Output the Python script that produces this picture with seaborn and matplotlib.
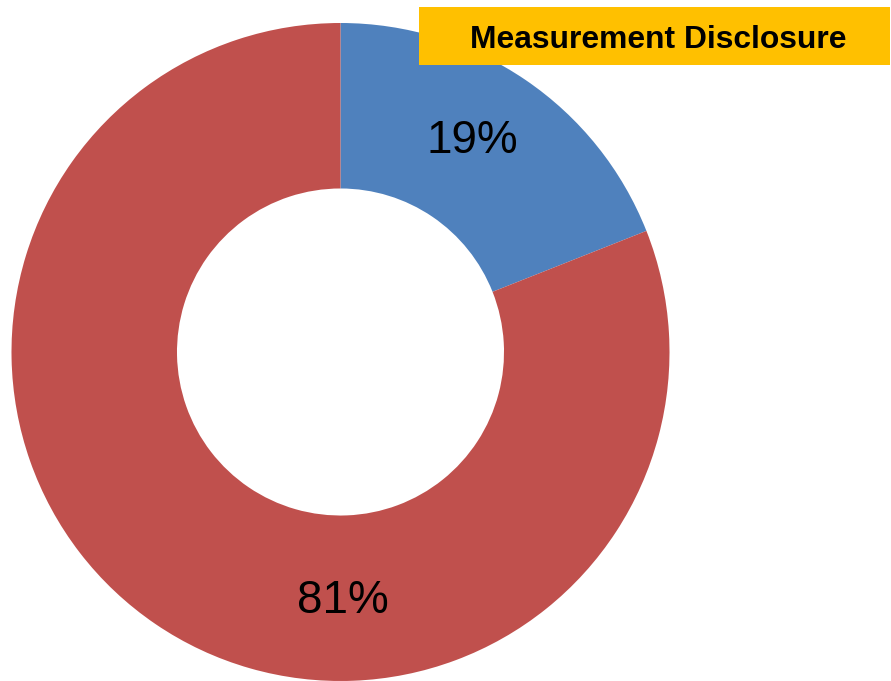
import matplotlib
matplotlib.use("Agg")
import matplotlib.pyplot as plt
from matplotlib.patches import Rectangle
import numpy as np
import seaborn as sns

categories = ["Disclosed", "Not disclosed"]
values = [19, 81]
labels = ["19%", "81%"]
colors = ["#4F81BD", "#C0504D"]
title = "Measurement Disclosure"

sns.set_theme(style="white")
plt.rcParams["font.family"] = ["Liberation Sans", "DejaVu Sans"]

W, H = 891, 681
fig = plt.figure(figsize=(W / 100, H / 100), dpi=100)
fig.patch.set_facecolor("white")

cx, cy, r = 340.5, 352.0, 329.0
ax = fig.add_axes([(cx - r) / W, (H - cy - r) / H, 2 * r / W, 2 * r / H])
wedges, _ = ax.pie(values, colors=sns.color_palette(colors), startangle=90,
                   counterclock=False, radius=1.0,
                   wedgeprops=dict(width=0.503, edgecolor="none", linewidth=0))
# label placement angles (degrees) as in the reference
label_angles = [58.0, -89.4]
for ang, lab in zip(label_angles, labels):
    a = np.deg2rad(ang)
    ax.text(0.758 * np.cos(a), 0.758 * np.sin(a), lab, ha="center", va="center",
            fontsize=33, color="black")
ax.set_xlim(-1, 1)
ax.set_ylim(-1, 1)
ax.set_aspect("equal")
ax.axis("off")

# title box
bx0, bx1, by0, by1 = 419, 890, 7, 65
fig.patches.append(Rectangle((bx0 / W, (H - by1) / H), (bx1 - bx0) / W, (by1 - by0) / H,
                             transform=fig.transFigure, facecolor="#FFC000",
                             edgecolor="none", zorder=5))
fig.text(658 / W, (H - 40.5) / H, title, ha="center", va="center", fontsize=22.9,
         fontweight="bold", color="black", zorder=6)

fig.savefig("out.png", dpi=100)
